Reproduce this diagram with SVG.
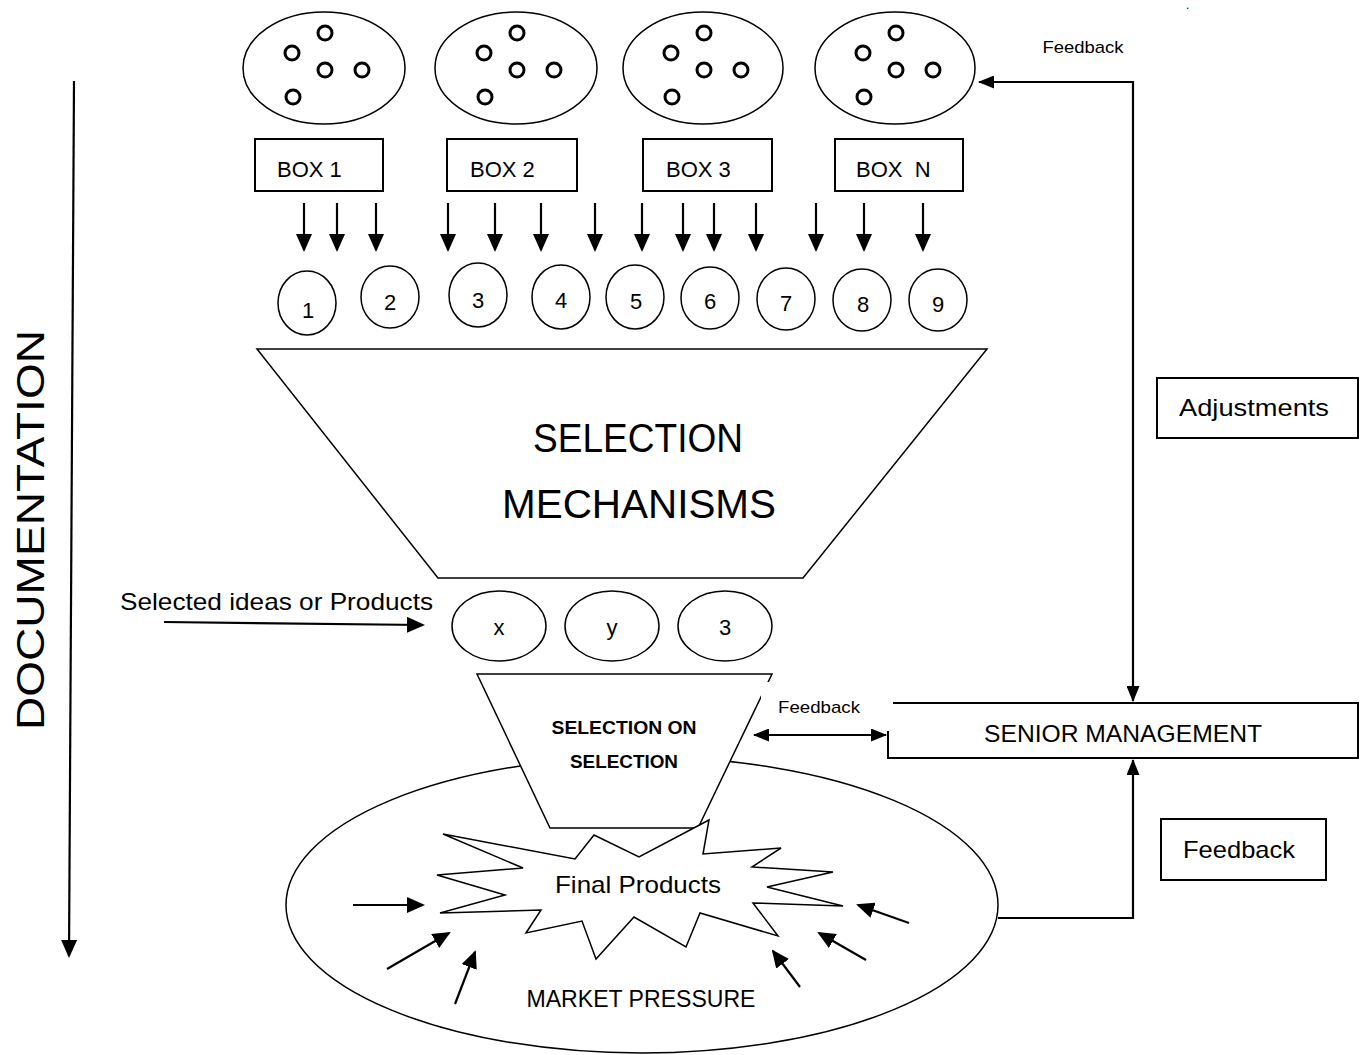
<svg xmlns="http://www.w3.org/2000/svg" width="1365" height="1055" viewBox="0 0 1365 1055">
<style>
  text { font-family: "Liberation Sans", Arial, sans-serif; fill: #000; }
  .o { fill: #fff; stroke: #000; stroke-width: 1.5; }
  .dot { fill: none; stroke: #000; stroke-width: 3; }
  .bx { fill: #fff; stroke: #000; stroke-width: 2; }
  .ln { fill: none; stroke: #000; stroke-width: 2.2; }
  .m { text-anchor: middle; }
  .s22 { font-size: 22px; }
  .s24 { font-size: 24px; }
  .s17 { font-size: 17px; }
  .b18 { font-size: 18px; font-weight: bold; }
  .big { font-size: 40px; }
</style>
<defs>
  <marker id="ah" markerUnits="userSpaceOnUse" markerWidth="18" markerHeight="16" refX="16" refY="8" orient="auto-start-reverse">
    <path d="M0,0 L18,8 L0,16 z" fill="#000"/>
  </marker>
  <marker id="ahs" markerUnits="userSpaceOnUse" markerWidth="16" markerHeight="13" refX="15" refY="6.5" orient="auto-start-reverse">
    <path d="M0,0 L16,6.5 L0,13 z" fill="#000"/>
  </marker>
  <g id="dots">
    <circle cx="-32" cy="-15" r="7" class="dot"/>
    <circle cx="1" cy="-35" r="7" class="dot"/>
    <circle cx="1" cy="2" r="7" class="dot"/>
    <circle cx="38" cy="2" r="7" class="dot"/>
    <circle cx="-31" cy="29" r="7" class="dot"/>
  </g>
</defs>
<rect width="1365" height="1055" fill="#fff"/>

<!-- idea pools -->
<g id="pool1"><ellipse cx="324" cy="68" rx="81" ry="56" class="o"/><use href="#dots" x="324" y="68"/></g>
<g id="pool2"><ellipse cx="516" cy="68" rx="81" ry="56" class="o"/><use href="#dots" x="516" y="68"/></g>
<g id="pool3"><ellipse cx="703" cy="68" rx="80" ry="56" class="o"/><use href="#dots" x="703" y="68"/></g>
<g id="pool4"><ellipse cx="895" cy="68" rx="80" ry="56" class="o"/><use href="#dots" x="895" y="68"/></g>

<!-- boxes -->
<g id="box1"><rect x="255" y="139" width="128" height="52" class="bx"/><text x="277" y="177" class="s22">BOX 1</text></g>
<g id="box2"><rect x="447" y="139" width="130" height="52" class="bx"/><text x="470" y="177" class="s22">BOX 2</text></g>
<g id="box3"><rect x="643" y="139" width="129" height="52" class="bx"/><text x="666" y="177" class="s22">BOX 3</text></g>
<g id="boxN"><rect x="835" y="139" width="128" height="52" class="bx"/><text x="856" y="177" class="s22" xml:space="preserve">BOX  N</text></g>

<!-- idea circles -->
<g id="idea1"><ellipse cx="307" cy="303" rx="29" ry="32" class="o"/><text x="308" y="318" class="s22 m">1</text></g>
<g id="idea2"><ellipse cx="390" cy="297" rx="29" ry="31" class="o"/><text x="390" y="310" class="s22 m">2</text></g>
<g id="idea3"><ellipse cx="478" cy="295" rx="29" ry="32" class="o"/><text x="478" y="308" class="s22 m">3</text></g>
<g id="idea4"><ellipse cx="561" cy="297" rx="29" ry="32" class="o"/><text x="561" y="308" class="s22 m">4</text></g>
<g id="idea5"><ellipse cx="635" cy="297" rx="29" ry="32" class="o"/><text x="636" y="309" class="s22 m">5</text></g>
<g id="idea6"><ellipse cx="710" cy="298" rx="29" ry="31" class="o"/><text x="710" y="309" class="s22 m">6</text></g>
<g id="idea7"><ellipse cx="786" cy="299" rx="29" ry="31" class="o"/><text x="786" y="311" class="s22 m">7</text></g>
<g id="idea8"><ellipse cx="862" cy="300" rx="29" ry="31" class="o"/><text x="863" y="312" class="s22 m">8</text></g>
<g id="idea9"><ellipse cx="938" cy="300" rx="29" ry="31" class="o"/><text x="938" y="312" class="s22 m">9</text></g>

<!-- selection mechanisms funnel -->
<g id="funnel">
  <polygon points="257,349 987,349 803,578 438,578" class="o"/>
  <text x="638" y="452" class="big m" textLength="210" lengthAdjust="spacingAndGlyphs">SELECTION</text>
  <text x="639" y="518" class="big m" textLength="274" lengthAdjust="spacingAndGlyphs">MECHANISMS</text>
</g>

<!-- selected items -->
<g id="selX"><ellipse cx="499" cy="626" rx="47" ry="35" class="o"/><text x="499" y="635" class="s22 m">x</text></g>
<g id="selY"><ellipse cx="612" cy="626" rx="47" ry="35" class="o"/><text x="612" y="635" class="s22 m">y</text></g>
<g id="sel3"><ellipse cx="725" cy="626" rx="47" ry="35" class="o"/><text x="725" y="635" class="s22 m">3</text></g>

<g id="selectedLabel"><text x="120" y="610" class="s24" textLength="313" lengthAdjust="spacingAndGlyphs">Selected ideas or Products</text></g>

<!-- market -->
<g id="market">
  <ellipse cx="642" cy="905" rx="356" ry="148" class="o"/>
  <text x="641" y="1007" class="s24 m" textLength="229" lengthAdjust="spacingAndGlyphs">MARKET PRESSURE</text>
</g>

<!-- selection on selection -->
<g id="sos">
  <polygon points="477,674 772,674 698,828 550,828" class="o"/>
  <text x="624" y="734" class="b18 m" textLength="145" lengthAdjust="spacingAndGlyphs">SELECTION ON</text>
  <text x="624" y="768" class="b18 m" textLength="108" lengthAdjust="spacingAndGlyphs">SELECTION</text>
</g>

<!-- final products star -->
<g id="final">
  <polygon points="443,834 575,859 594,835 639,857 709,820 703,854 781,848 752,867 833,872 767,887 843,906 753,903 778,936 700,913 686,947 634,917 596,959 582,921 526,933 541,910 440,913 505,895 437,875 523,868" class="o"/>
  <text x="638" y="893" class="s24 m" textLength="166" lengthAdjust="spacingAndGlyphs">Final Products</text>
</g>

<!-- senior management -->
<g id="senior">
  <rect x="888" y="703" width="470" height="55" class="bx"/>
  <text x="1123" y="742" class="s24 m" textLength="278" lengthAdjust="spacingAndGlyphs">SENIOR MANAGEMENT</text>
</g>

<g id="adjustments">
  <rect x="1157" y="378" width="201" height="60" class="bx"/>
  <text x="1179" y="416" class="s24" textLength="150" lengthAdjust="spacingAndGlyphs">Adjustments</text>
</g>

<g id="feedbackBox">
  <rect x="1161" y="819" width="165" height="61" class="bx"/>
  <text x="1183" y="858" class="s24" textLength="112" lengthAdjust="spacingAndGlyphs">Feedback</text>
</g>

<!-- feedback label near senior management (text box covers edges) -->
<g id="feedbackMid">
  <rect x="761" y="682" width="132" height="49" fill="#fff"/>
  <text x="819" y="713" class="s17 m" textLength="82" lengthAdjust="spacingAndGlyphs">Feedback</text>
</g>

<g id="feedbackTop">
  <text x="1083" y="53" class="s17 m" textLength="81" lengthAdjust="spacingAndGlyphs">Feedback</text>
  <text x="1186" y="9" style="font-size:12px">.</text>
</g>

<!-- documentation -->
<g id="documentation">
  <text transform="translate(44,530) rotate(-90)" class="m" style="font-size:38px" textLength="400" lengthAdjust="spacingAndGlyphs">DOCUMENTATION</text>
</g>

<!-- connectors -->
<g id="connectors" class="ln">
  <g marker-end="url(#ah)">
    <line x1="304" y1="203" x2="304" y2="250"/>
    <line x1="337" y1="203" x2="337" y2="250"/>
    <line x1="376" y1="203" x2="376" y2="250"/>
    <line x1="448" y1="203" x2="448" y2="250"/>
    <line x1="495" y1="203" x2="495" y2="250"/>
    <line x1="541" y1="203" x2="541" y2="250"/>
    <line x1="595" y1="203" x2="595" y2="250"/>
    <line x1="642" y1="203" x2="642" y2="250"/>
    <line x1="683" y1="203" x2="683" y2="250"/>
    <line x1="714" y1="203" x2="714" y2="250"/>
    <line x1="756" y1="203" x2="756" y2="250"/>
    <line x1="816" y1="203" x2="816" y2="250"/>
    <line x1="864" y1="203" x2="864" y2="250"/>
    <line x1="923" y1="203" x2="923" y2="250"/>
    <line x1="74" y1="81" x2="69" y2="956"/>
    <line x1="164" y1="622" x2="423" y2="625"/>
    <line x1="353" y1="905" x2="423" y2="905"/>
    <line x1="387" y1="969" x2="449" y2="933"/>
    <line x1="455" y1="1004" x2="475" y2="952"/>
    <line x1="800" y1="987" x2="773" y2="951"/>
    <line x1="866" y1="960" x2="819" y2="933"/>
    <line x1="909" y1="923" x2="858" y2="905"/>
  </g>
  <path d="M979,82 H1133 V701" marker-start="url(#ahs)" marker-end="url(#ahs)"/>
  <path d="M998,918 H1133 V760" marker-end="url(#ahs)"/>
  <path d="M754,735 H886" marker-start="url(#ahs)" marker-end="url(#ahs)"/>
</g>
</svg>
